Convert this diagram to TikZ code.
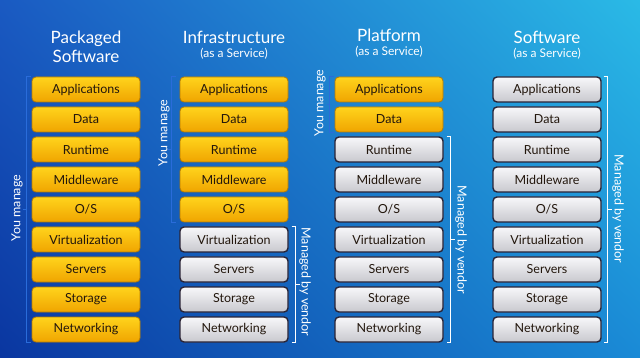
\documentclass[tikz,border=0pt]{standalone}
\usepackage{fontspec}
\setmainfont{Lato}
\usetikzlibrary{calc,shadings}
\definecolor{bgLL}{HTML}{0A36A0}
\definecolor{bgUL}{HTML}{1A5AC2}
\definecolor{bgUR}{HTML}{2ABAE6}
\definecolor{bgLR}{HTML}{1A8AD6}
\definecolor{ylT}{HTML}{FFD41C}
\definecolor{ylB}{HTML}{F0A400}
\definecolor{ylD}{HTML}{B87C00}
\definecolor{gyT}{HTML}{F8F8FA}
\definecolor{gyB}{HTML}{C8C8CE}
\definecolor{gyD}{HTML}{2A2436}
\definecolor{txD}{HTML}{22160C}
\definecolor{brB}{HTML}{2A6CDA}
\begin{document}
\begin{tikzpicture}[x=1pt,y=-1pt,
  box/.style={rounded corners=4pt, minimum width=108pt, minimum height=25pt,
    inner sep=0pt, font=\fontsize{12.5}{14}\selectfont, text=txD},
  own/.style={box, draw=ylD, line width=0.8pt, top color=ylT, bottom color=ylB},
  vend/.style={box, draw=gyD, line width=1.4pt, top color=gyT, bottom color=gyB},
  title/.style={text=white, font=\fontsize{17}{19.5}\selectfont, align=center},
  sub/.style={text=white, font=\fontsize{12}{13}\selectfont},
  bluebr/.style={draw=brB, line width=1.6pt},
  whitebr/.style={draw=white, line width=1.5pt},
  sidelbl/.style={text=white, font=\fontsize{12.5}{14}\selectfont},
]
\useasboundingbox (0,0) rectangle (640,358);
\shade[upper left=bgUL, upper right=bgUR, lower left=bgLL, lower right=bgLR] (0,0) rectangle (640,358);
% titles
\node[title] (t1) at (86,47) {Packaged\\Software};
\node[title] (t2) at (234,37) {Infrastructure};
\node[sub] (s2) at (234,53.5) {(as a Service)};
\node[title] (t3) at (389,35) {Platform};
\node[sub] (s3) at (389,52) {(as a Service)};
\node[title] (t4) at (547,37) {Software};
\node[sub] (s4) at (547,54) {(as a Service)};
% boxes
\foreach \t [count=\i] in {Applications,Data,Runtime,Middleware,O/S,Virtualization,Servers,Storage,Networking} {
  \node[own] (a\i) at (86,59.5+30*\i) {\t};
  \ifnum\i<6 \def\st{own}\else\def\st{vend}\fi
  \node[\st] (b\i) at (234,59.5+30*\i) {\t};
  \ifnum\i<3 \def\st{own}\else\def\st{vend}\fi
  \node[\st] (c\i) at (389,59.5+30*\i) {\t};
  \node[vend] (d\i) at (547,59.5+30*\i) {\t};
}
% column 1
\draw[bluebr] ([xshift=-1pt]a1.north west) -- ([xshift=-5pt]a1.north west) -- ([xshift=-5pt]a9.south west) -- ([xshift=-1pt]a9.south west);
\coordinate (m1) at ($([xshift=-5pt]a1.north west)!0.5!([xshift=-5pt]a9.south west)$);
\draw[bluebr] (m1) -- ++(-4pt,0);
\node[sidelbl, rotate=90] (y1) at (17,208) {You manage};
% column 2
\draw[bluebr] ([xshift=-4pt]b1.north west) -- ([xshift=-8pt]b1.north west) -- ([xshift=-8pt]b5.south west) -- ([xshift=-4pt]b5.south west);
\coordinate (m2l) at ($([xshift=-8pt]b1.north west)!0.5!([xshift=-8pt]b5.south west)$);
\draw[bluebr] (m2l) -- ++(-4pt,0);
\node[sidelbl, rotate=90] (y2) at (164,133) {You manage};
\draw[whitebr] ([xshift=3pt]b6.north east) -- ([xshift=7pt]b6.north east) -- ([xshift=7pt]b9.south east) -- ([xshift=3pt]b9.south east);
\coordinate (m2) at ($([xshift=7pt]b6.north east)!0.5!([xshift=7pt]b9.south east)$);
\draw[whitebr] (m2) -- ++(4pt,0);
\node[sidelbl, rotate=-90] (v2) at (305,282) {Managed by vendor};
% column 3
\draw[bluebr] ([xshift=-1pt]c1.north west) -- ([xshift=-5pt]c1.north west) -- ([xshift=-5pt]c2.south west) -- ([xshift=-1pt]c2.south west);
\coordinate (m3l) at ($([xshift=-5pt]c1.north west)!0.5!([xshift=-5pt]c2.south west)$);
\draw[bluebr] (m3l) -- ++(-3pt,0);
\node[sidelbl, rotate=90] (y3) at (320,103) {You manage};
\draw[whitebr] ([xshift=3pt]c3.north east) -- ([xshift=7pt]c3.north east) -- ([xshift=7pt]c9.south east) -- ([xshift=3pt]c9.south east);
\coordinate (m3) at ($([xshift=7pt]c3.north east)!0.5!([xshift=7pt]c9.south east)$);
\draw[whitebr] (m3) -- ++(4pt,0);
\node[sidelbl, rotate=-90] (v3) at (461,240) {Managed by vendor};
% column 4
\draw[whitebr] ([xshift=2pt]d1.north east) -- ([xshift=6pt]d1.north east) -- ([xshift=6pt]d9.south east) -- ([xshift=2pt]d9.south east);
\coordinate (m4) at ($([xshift=6pt]d1.north east)!0.5!([xshift=6pt]d9.south east)$);
\draw[whitebr] (m4) -- ++(4pt,0);
\node[sidelbl, rotate=-90] (v4) at (618,209) {Managed by vendor};
\end{tikzpicture}
\end{document}
